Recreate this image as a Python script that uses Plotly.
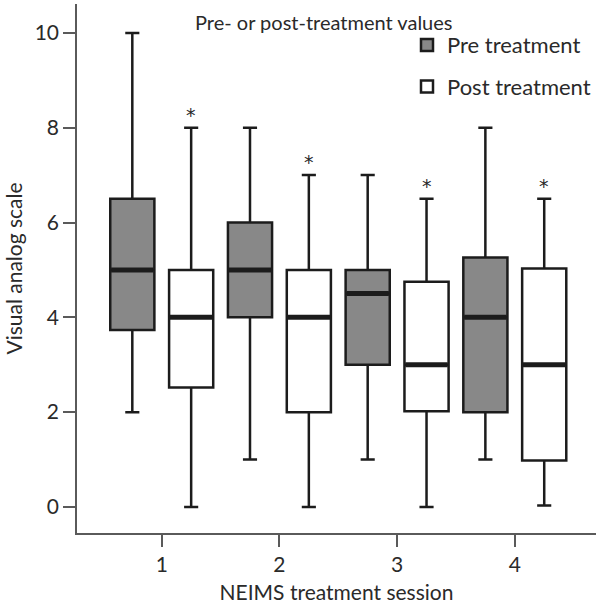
import plotly.graph_objects as go

sessions = [1, 2, 3, 4]
pre_low = [2, 1, 1, 1.0]
pre_q1 = [3.73, 4, 3, 2]
pre_med = [5, 5, 4.5, 4]
pre_q3 = [6.5, 6, 5, 5.26]
pre_high = [10, 8, 7, 8]

post_low = [0, 0, 0, 0.03]
post_q1 = [2.52, 2, 2.02, 0.98]
post_med = [4, 4, 3, 3]
post_q3 = [5, 5, 4.75, 5.03]
post_high = [8, 7, 6.5, 6.5]

FONT = "Lato"
LINE = "#1c1c1c"
AX = "#5a5a5a"
TXT = "#2a2a2a"

fig = go.Figure()
fig.add_trace(go.Box(
    name="Pre treatment", x=sessions, q1=pre_q1, median=pre_med, q3=pre_q3,
    lowerfence=pre_low, upperfence=pre_high,
    fillcolor="#888888", line=dict(color=LINE, width=2.5),
    whiskerwidth=0.32, legendgroup="a", offsetgroup="a", hoverinfo="skip"))
fig.add_trace(go.Box(
    name="Post treatment", x=sessions, q1=post_q1, median=post_med, q3=post_q3,
    lowerfence=post_low, upperfence=post_high,
    fillcolor="#ffffff", line=dict(color=LINE, width=2.5),
    whiskerwidth=0.32, legendgroup="b", offsetgroup="b", hoverinfo="skip"))

# thicker median bars drawn from median data
off = 0.25
hw = 0.18
for sign, meds in ((-1, pre_med), (1, post_med)):
    xs, ys = [], []
    for s, m in zip(sessions, meds):
        xs += [s + sign * off - hw, s + sign * off + hw, None]
        ys += [m, m, None]
    fig.add_trace(go.Scatter(x=xs, y=ys, mode="lines",
                             line=dict(color=LINE, width=5),
                             showlegend=False, hoverinfo="skip"))

for s, h in zip(sessions, post_high):
    fig.add_annotation(x=s + off, y=h, text="*", showarrow=False,
                       yshift=13, font=dict(size=19, color=TXT, family="DejaVu Sans"))

fig.add_annotation(xref="paper", yref="paper", x=0.475, y=1.0, yshift=-4,
                   text="Pre- or post-treatment values", showarrow=False,
                   xanchor="center", font=dict(size=20, color=TXT, family=FONT))

fig.update_layout(
    width=596, height=605,
    margin=dict(l=77, r=0, t=4, b=72),
    paper_bgcolor="white", plot_bgcolor="white",
    boxmode="group", boxgap=0, boxgroupgap=0.25,
    font=dict(family=FONT, size=21, color=TXT),
    showlegend=True,
    legend=dict(x=1.0, y=0.962, xanchor="right", yanchor="top",
                font=dict(size=22, color=TXT, family=FONT),
                tracegroupgap=10, bgcolor="rgba(0,0,0,0)"),
    xaxis=dict(range=[0.28, 4.69], tickvals=sessions, ticktext=[str(s) for s in sessions],
               showline=True, linecolor=AX, linewidth=1.5, ticks="outside",
               tickcolor=AX, ticklen=12, tickwidth=1.5, showgrid=False, zeroline=False,
               title=dict(text="NEIMS treatment session", font=dict(size=21), standoff=10),
               tickfont=dict(size=21)),
    yaxis=dict(range=[-0.55, 10.61], tickvals=[0, 2, 4, 6, 8, 10],
               showline=True, linecolor=AX, linewidth=1.5, ticks="outside",
               tickcolor=AX, ticklen=12, tickwidth=1.5, showgrid=False, zeroline=False,
               title=dict(text="Visual analog scale", font=dict(size=21), standoff=6),
               tickfont=dict(size=21)),
)

fig.write_html("out.html")
